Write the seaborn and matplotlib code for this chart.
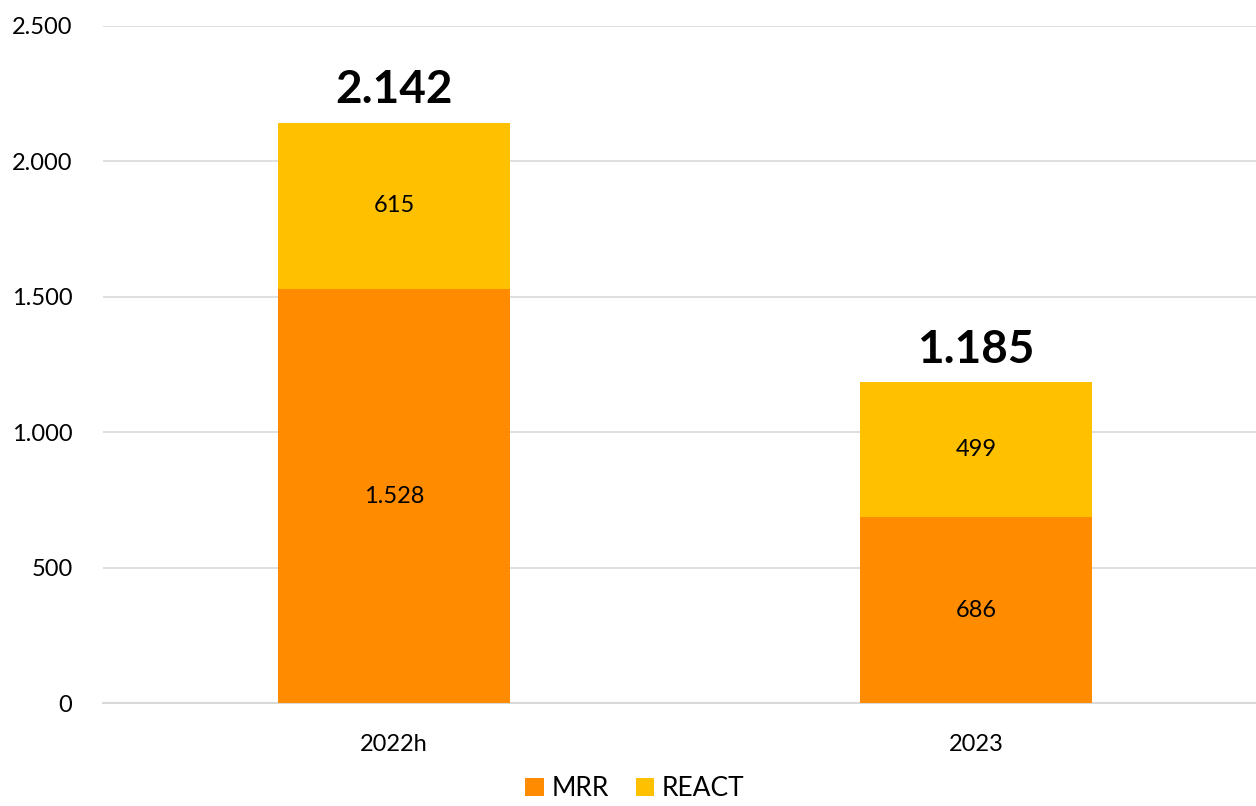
import numpy as np
import pandas as pd
import matplotlib.pyplot as plt
from matplotlib.ticker import FuncFormatter
import seaborn as sns

categories = ['2022h', '2023']
mrr = [1528, 686]
react = [615, 499]
totals = [2142, 1185]

c_mrr = '#FF8C00'
c_react = '#FFC000'
grid_c = '#D9D9D9'


def dotfmt(v):
    return f'{int(round(v)):,}'.replace(',', '.')


sns.set_theme(style='white')
plt.rcParams['font.family'] = ['Lato', 'DejaVu Sans']
plt.rcParams['text.color'] = 'black'
plt.rcParams['xtick.color'] = 'black'
plt.rcParams['ytick.color'] = 'black'

df = pd.DataFrame({'cat': categories, 'MRR': mrr, 'REACT': react})

fig = plt.figure(figsize=(12.56, 8.06), dpi=100)
ax = fig.add_axes([103 / 1256, 1 - 703 / 806, 1164 / 1256, 677 / 806])

sns.barplot(data=df, x='cat', y='MRR', color=c_mrr, width=0.4, ax=ax,
            saturation=1, label='MRR', zorder=3, linewidth=0)
sns.barplot(data=df, x='cat', y='REACT', color=c_react, width=0.4, ax=ax,
            saturation=1, bottom=df['MRR'], label='REACT', zorder=3, linewidth=0)

ax.set_ylim(0, 2500)
ax.set_xlim(-0.5, 1.5)
ax.set_yticks(np.arange(0, 2501, 500))
ax.yaxis.set_major_formatter(FuncFormatter(lambda v, p: dotfmt(v)))
ax.grid(axis='y', color=grid_c, linewidth=1.2, zorder=0)
ax.set_axisbelow(True)

for s in ['left', 'right', 'top']:
    ax.spines[s].set_visible(False)
ax.spines['bottom'].set_color(grid_c)
ax.spines['bottom'].set_linewidth(1.5)

ax.tick_params(axis='y', length=0, labelsize=17, pad=22, labelcolor='black')
ax.tick_params(axis='x', which='major', length=0, labelsize=17, pad=22,
               labelcolor='black')
ax.set_xticks([-0.5, 0.5, 1.5], minor=True)
ax.tick_params(axis='x', which='minor', length=8, color=grid_c, width=1.5)
ax.set_xlabel('')
ax.set_ylabel('')

for i in range(len(categories)):
    ax.text(i, mrr[i] / 2, dotfmt(mrr[i]), ha='center', va='center', fontsize=17)
    ax.text(i, mrr[i] + react[i] / 2, dotfmt(react[i]), ha='center', va='center',
            fontsize=17)
    ax.text(i, totals[i] + 120, dotfmt(totals[i]), ha='center', va='center',
            fontsize=33, fontweight='bold')

ax.legend(loc='center', bbox_to_anchor=(0.5 * 1256 / 1164 - 103 / 1164 + 0.006, -0.127),
          ncol=2, frameon=False, fontsize=19, handlelength=0.7, handleheight=0.7,
          handletextpad=0.3, columnspacing=1.0)

fig.savefig('out.png', dpi=100)
